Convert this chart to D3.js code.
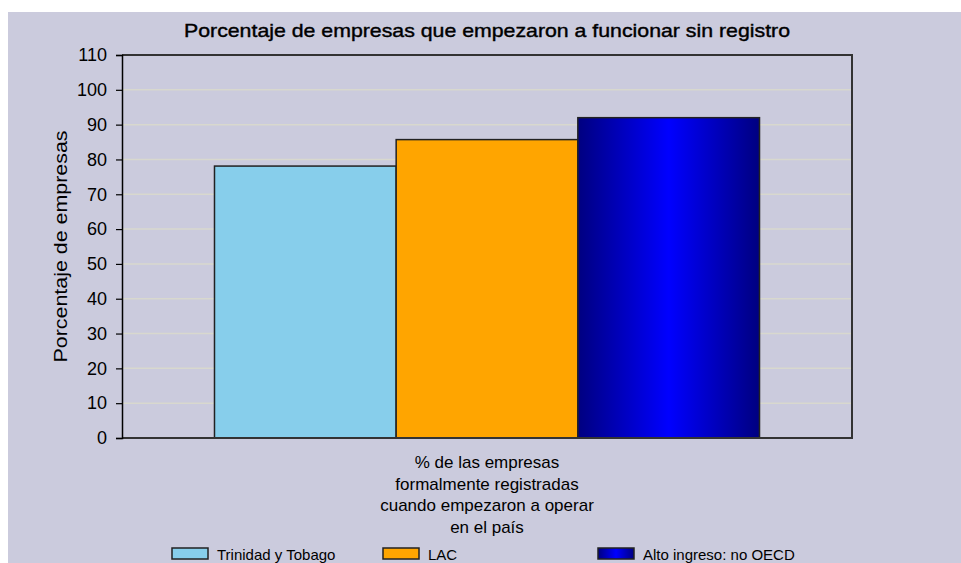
<!DOCTYPE html>
<html>
<head>
<meta charset="utf-8">
<script src="https://cdn.jsdelivr.net/npm/d3@7"></script>
<style>
html,body{margin:0;padding:0;background:#fff;}
svg{display:block;}
text{font-family:"Liberation Sans",Arial,sans-serif;fill:#000;}
</style>
</head>
<body>
<script>
const title = "Porcentaje de empresas que empezaron a funcionar sin registro";
const yAxisLabel = "Porcentaje de empresas";
const categories = ["% de las empresas formalmente registradas cuando empezaron a operar en el país"];
const categoryLines = ["% de las empresas", "formalmente registradas", "cuando empezaron a operar", "en el país"];
const seriesNames = ["Trinidad y Tobago", "LAC", "Alto ingreso: no OECD"];
const seriesValues = [78.1, 85.7, 92.0];
const yTicks = [0,10,20,30,40,50,60,70,80,90,100,110];

const W = 961, H = 563;
const svg = d3.select("body").append("svg").attr("width", W).attr("height", H);

const defs = svg.append("defs");
const g1 = defs.append("linearGradient").attr("id","navyGrad").attr("x1","0%").attr("x2","100%").attr("y1","0%").attr("y2","0%");
g1.append("stop").attr("offset","0%").attr("stop-color","#000080");
g1.append("stop").attr("offset","50%").attr("stop-color","#0000FF");
g1.append("stop").attr("offset","100%").attr("stop-color","#000080");
const fills = ["#87CEEB", "#FFA500", "url(#navyGrad)"];

// background
svg.append("rect").attr("x",0).attr("y",0).attr("width",W).attr("height",H).attr("fill","#ffffff");
svg.append("rect").attr("x",8).attr("y",12).attr("width",W-8).attr("height",H-12).attr("fill","#CBCBDD");

const L = 122, R = 852, T = 55, B = 438;
const y = d3.scaleLinear().domain([0,110]).range([B,T]);
const x0 = d3.scaleBand().domain(categories).range([L,R]).paddingOuter(0.1697).paddingInner(0);
const x1 = d3.scaleBand().domain(seriesNames).range([0, x0.bandwidth()]).padding(0);

// gridlines
svg.append("g").selectAll("line").data(yTicks.filter(d=>d>0 && d<110)).join("line")
  .attr("x1",L).attr("x2",R).attr("y1",d=>y(d)).attr("y2",d=>y(d))
  .attr("stroke","#D8D8CE").attr("stroke-width",1.5);

// bars
const bars = svg.append("g").attr("transform",`translate(${x0(categories[0])},0)`);
bars.selectAll("rect").data(seriesValues).join("rect")
  .attr("x",(d,i)=>x1(seriesNames[i]))
  .attr("y",d=>y(d))
  .attr("width",x1.bandwidth())
  .attr("height",d=>B-y(d))
  .attr("fill",(d,i)=>fills[i])
  .attr("stroke","#222").attr("stroke-width",1.5);

// plot frame (top, right, bottom)
svg.append("path").attr("d",`M${L},${T}H${R}V${B}H${L}`).attr("fill","none").attr("stroke","#333").attr("stroke-width",2);

// y axis
const yAxis = d3.axisLeft(y).tickValues(yTicks).tickSize(6).tickPadding(9);
const ya = svg.append("g").attr("transform",`translate(${L},0)`).call(yAxis);
ya.select(".domain").attr("stroke","#000").attr("stroke-width",1.5);
ya.selectAll(".tick line").attr("stroke","#000").attr("stroke-width",1.2);
ya.selectAll(".tick text").style("font-family","'Liberation Sans',Arial,sans-serif").style("font-size","18px").attr("fill","#000");

// y axis label
svg.append("text").attr("transform",`translate(67,${(T+B)/2}) rotate(-90)`)
  .attr("text-anchor","middle").style("font-size","19px")
  .attr("textLength",232).attr("lengthAdjust","spacingAndGlyphs").text(yAxisLabel);

// title
svg.append("text").attr("x",487).attr("y",37).attr("text-anchor","middle")
  .style("font-size","19px").style("font-weight","normal").style("stroke","#000").style("stroke-width","0.4px")
  .attr("textLength",606).attr("lengthAdjust","spacingAndGlyphs").text(title);

// category label
const cx = x0(categories[0]) + x0.bandwidth()/2;
svg.append("g").selectAll("text").data(categoryLines).join("text")
  .attr("x",cx).attr("y",(d,i)=>468+i*21.5).attr("text-anchor","middle")
  .style("font-size","17px").text(d=>d);

// legend
const legX = [172, 383, 598];
const leg = svg.append("g").selectAll("g").data(seriesNames).join("g")
  .attr("transform",(d,i)=>`translate(${legX[i]},548)`);
leg.append("rect").attr("width",36).attr("height",11)
  .attr("fill",(d,i)=>fills[i]).attr("stroke","#222").attr("stroke-width",1.5);
leg.append("text").attr("x",45).attr("y",11.5).style("font-size","15px").text(d=>d);
</script>
</body>
</html>
